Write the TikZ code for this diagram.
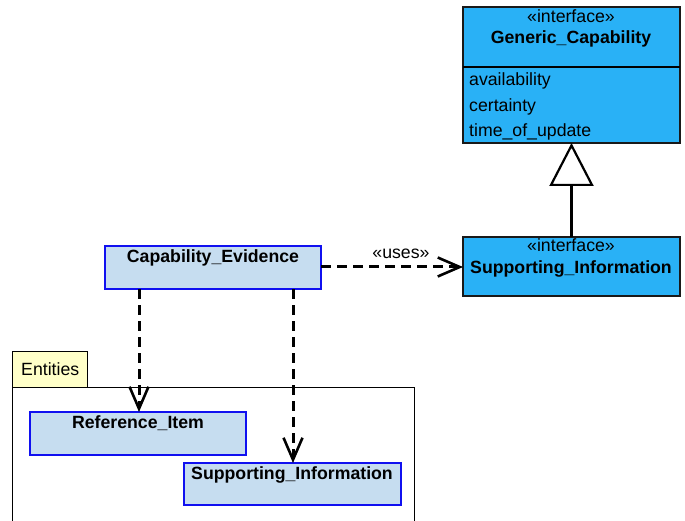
\documentclass[tikz,border=0pt]{standalone}
\usepackage{fontspec}
\setmainfont{Liberation Sans}
\usetikzlibrary{arrows.meta}
\definecolor{ifacefill}{HTML}{29B1F6}
\definecolor{classfill}{HTML}{C6DDF0}
\definecolor{classline}{HTML}{1010F0}
\definecolor{pkgtab}{HTML}{FFFFC8}
\tikzset{
  box/.style={anchor=north west, inner sep=0pt, outer sep=0pt},
  iface/.style={box, draw=black!90, fill=ifacefill, line width=1.2pt},
  cls/.style={box, draw=classline, fill=classfill, line width=1.2pt},
  txt/.style={inner sep=0pt, anchor=base, font=\fontsize{17.7}{21}\selectfont},
  btxt/.style={txt, font=\fontsize{17.7}{21}\selectfont\bfseries},
  dep/.style={line width=3pt, dash pattern=on 10pt off 6pt,
    -{Straight Barb[length=22pt, width=19pt, line width=2.6pt]}},
  gen/.style={line width=2.2pt,
    -{Triangle[open, length=43pt, width=44pt, line width=2.2pt]}},
}
\begin{document}
\begin{tikzpicture}[x=1pt, y=-1pt]
\useasboundingbox (0,0) rectangle (685,521);

% Entities package
\draw[line width=1pt, fill=pkgtab] (12,351) rectangle (87,387);
\node[txt, anchor=base west] (pkgname) at (21,375) {Entities};
\draw[line width=1pt] (12,530) -- (12,387) -- (414,387) -- (414,530);

% Generic_Capability interface
\node[iface, minimum width=217pt, minimum height=136pt] (gc) at (463,7) {};
\draw[line width=1.2pt] (463,67) -- (680,67);
\node[txt] (gcst) at (571,23) {«interface»};
\node[btxt] (gcname) at (571,44) {Generic\_Capability};
\node[txt, anchor=base west] (a1) at (469,86) {availability};
\node[txt, anchor=base west] (a2) at (469,112) {certainty};
\node[txt, anchor=base west] (a3) at (469,137) {time\_of\_update};

% Supporting_Information interface
\node[iface, minimum width=217pt, minimum height=59pt] (si) at (463,237) {};
\node[txt] (sist) at (571,252) {«interface»};
\node[btxt] (siname) at (571,274) {Supporting\_Information};

% Classes
\node[cls, minimum width=216pt, minimum height=43pt] (ce) at (105,246) {};
\node[btxt] (cename) at (213,263) {Capability\_Evidence};

\node[cls, minimum width=216pt, minimum height=43pt] (ri) at (30,412) {};
\node[btxt] (riname) at (138,428) {Reference\_Item};

\node[cls, minimum width=217pt, minimum height=42pt] (se) at (184,463) {};
\node[btxt] (sename) at (292,479) {Supporting\_Information};

% Connectors
\draw[gen] (si.north) -- (gc.south);
\coordinate (ceR) at (ce.east |- 0,267);
\draw[dep] (ceR) -- (ceR -| si.west);
\node[txt] (uses) at (401,259) {«uses»};
\draw[dep] (ce.south west) ++(34,0) coordinate (ceA) -- (ceA |- ri.north);
\draw[dep] (ce.south west) ++(188,0) coordinate (ceB) -- (ceB |- se.north);
\end{tikzpicture}
\end{document}
